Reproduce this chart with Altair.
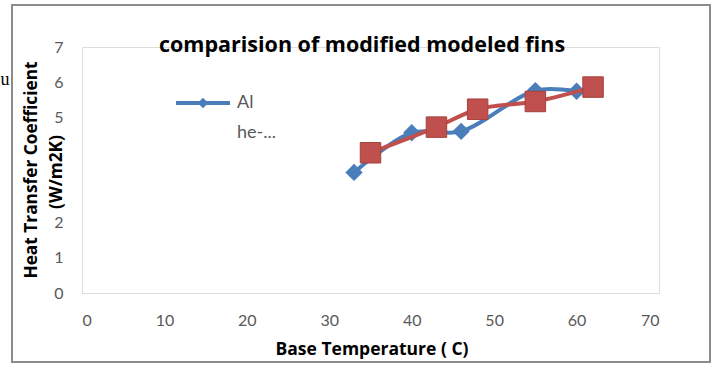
import altair as alt
import pandas as pd

# Measured heat transfer coefficient against fin base temperature
temp_al = [33, 40, 46, 55, 60]
htc_al = [3.43, 4.56, 4.60, 5.76, 5.74]
temp_he = [35, 43, 48, 55, 62]
htc_he = [3.99, 4.72, 5.23, 5.45, 5.86]

x_ticks = [0, 10, 20, 30, 40, 50, 60, 70]
# 3 and 4 sit underneath the second line of the axis title
y_ticks = [0, 1, 2, 5, 6, 7]

BLUE = "#4A7EBB"
RED = "#C0504D"
GREY = "#595959"
FONT = "Lato"
BOLD_FONT = "Open Sans"

al = pd.DataFrame({"t": temp_al, "h": htc_al})
he = pd.DataFrame({"t": temp_he, "h": htc_he})

x_enc = alt.X("t:Q", scale=alt.Scale(domain=[0, 70], nice=False),
              axis=alt.Axis(values=x_ticks, title=None, domain=False, ticks=False,
                            grid=False, labelFont=FONT, labelFontSize=16,
                            labelColor=GREY, labelPadding=19, labelOverlap=False))
y_enc = alt.Y("h:Q", scale=alt.Scale(domain=[0, 7], nice=False),
              axis=alt.Axis(values=y_ticks, title=None, domain=False, ticks=False,
                            grid=False, labelFont=FONT, labelFontSize=16,
                            labelColor=GREY, labelPadding=19, labelOverlap=False))

al_line = alt.Chart(al).mark_line(color=BLUE, strokeWidth=4, interpolate="catmull-rom").encode(x=x_enc, y=y_enc)
al_pts = alt.Chart(al).mark_point(shape="diamond", filled=True, color=BLUE, size=300,
                                  opacity=1).encode(x=x_enc, y=y_enc)
he_line = alt.Chart(he).mark_line(color=RED, strokeWidth=4, interpolate="catmull-rom").encode(x=x_enc, y=y_enc)
he_pts = alt.Chart(he).mark_point(shape="square", filled=True, color=RED, size=420, opacity=1,
                                  stroke="#A5403D", strokeWidth=1).encode(x=x_enc, y=y_enc)

# Outer chart frame
frame = alt.Chart(pd.DataFrame({"a": [0]})).mark_rect(filled=False, stroke="#8C8C8C", strokeWidth=2).encode(
    x=alt.value(-70), x2=alt.value(628), y=alt.value(-42), y2=alt.value(315))


def label(text, x, y, size=15, color=GREY, weight="normal", angle=0, font=FONT,
          align="center", baseline="middle"):
    return alt.Chart(pd.DataFrame({"s": [text]})).mark_text(
        fontSize=size, color=color, fontWeight=weight, angle=angle, font=font,
        align=align, baseline=baseline).encode(text="s:N", x=alt.value(x), y=alt.value(y))


title = label("comparision of modified modeled fins", 280, 5, size=21.5, color="#000000",
              weight="bold", font=BOLD_FONT, baseline="alphabetic")
xtitle = label("Base Temperature ( C)", 290, 308, size=17.5, color="#000000", weight="bold",
               font=BOLD_FONT, baseline="alphabetic")
ytitle1 = label("Heat Transfer Coefficient", -50, 123, size=17.3, color="#000000", weight="bold",
                angle=270, font=BOLD_FONT)
ytitle2 = label("(W/m2K)", -25, 125, size=17.3, color="#000000", weight="bold", angle=270, font=BOLD_FONT)
stray = label("u", -77, 33, size=18, color="#000000", font="Liberation Serif")

# Legend inside the plot
leg_line = alt.Chart(pd.DataFrame({"a": [0]})).mark_rule(color=BLUE, strokeWidth=4).encode(
    x=alt.value(94), x2=alt.value(148), y=alt.value(56))
leg_pt = alt.Chart(pd.DataFrame({"a": [0]})).mark_point(shape="diamond", filled=True, color=BLUE,
                                                       size=110, opacity=1).encode(
    x=alt.value(121), y=alt.value(56))
leg_al = label("Al", 155, 56, size=18, align="left")
leg_he = label("he-...", 155, 86, size=18, align="left")

chart = alt.layer(
    frame, al_line, al_pts, he_line, he_pts, leg_line, leg_pt, leg_al, leg_he,
    title, xtitle, ytitle1, ytitle2, stray
).properties(
    width=577, height=246,
    autosize=alt.AutoSizeParams(type="none"),
    padding={"left": 82, "top": 47, "right": 55, "bottom": 73},
).configure_view(stroke="#8C8C8C", strokeWidth=1.5).configure(background="white")

chart.save("out.html", embed_options={"renderer": "svg", "actions": False})
